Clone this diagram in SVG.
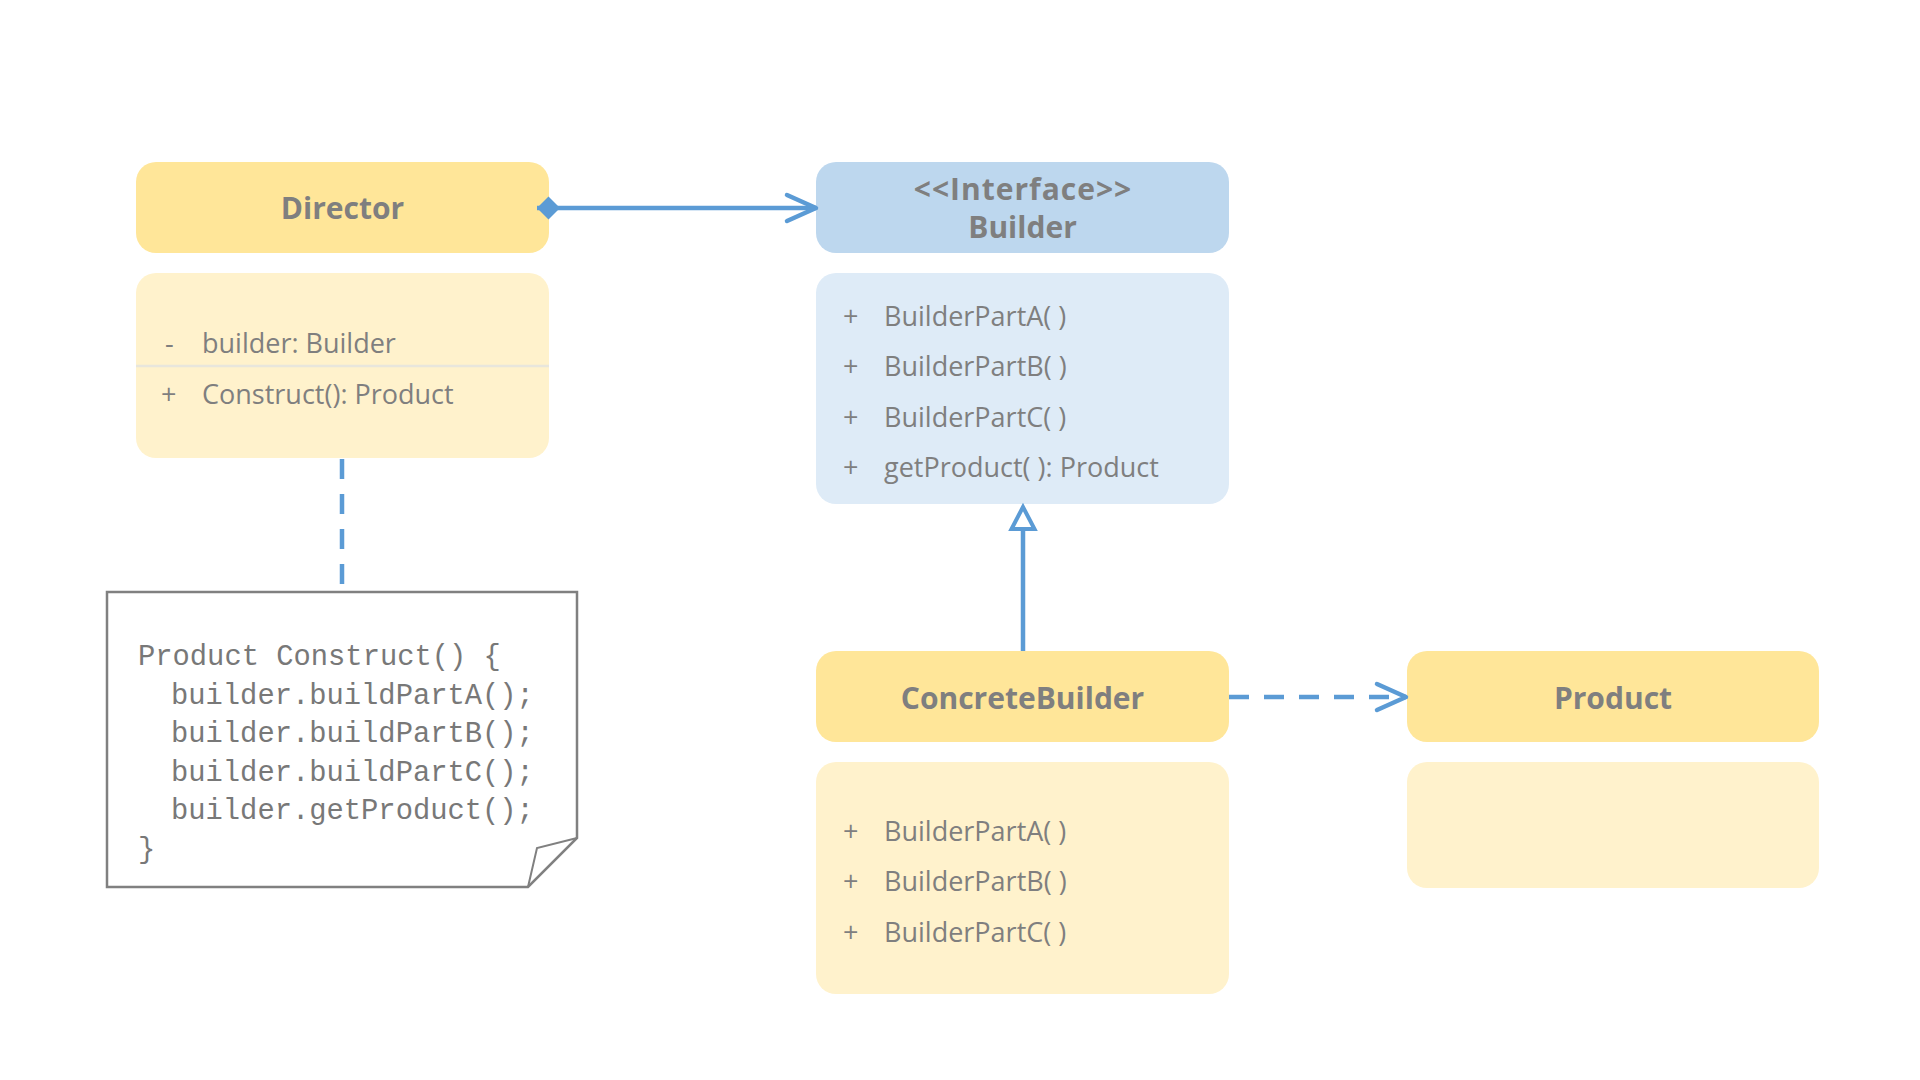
<svg xmlns="http://www.w3.org/2000/svg" width="1920" height="1080" viewBox="0 0 1920 1080">
<style>
.hdrY{fill:#FFE699}
.bodyY{fill:#FFF2CC}
.hdrB{fill:#BDD7EE}
.bodyB{fill:#DEEBF7}
.title{font-family:"Open Sans","Noto Sans",sans-serif;font-weight:bold;font-size:30px;fill:#7F7F7F;text-anchor:middle}
.item{font-family:"Open Sans","Noto Sans",sans-serif;font-size:27px;fill:#7F7F7F}
.code{font-family:"Liberation Mono","Courier New",monospace;font-size:28.8px;fill:#787878}
.conn{stroke:#5B9BD5;stroke-width:4.5;fill:none}
.dash{stroke-dasharray:20 15}
</style>
<defs>
<marker id="openArrow" markerUnits="userSpaceOnUse" markerWidth="40" markerHeight="40" viewBox="-34 -20 40 40" refX="0" refY="0" orient="auto" overflow="visible">
<path d="M-29,-13 L0,0 L-29,13" fill="none" stroke="#5B9BD5" stroke-width="4.5" stroke-linecap="round" stroke-linejoin="round"/>
</marker>
<marker id="diamond" markerUnits="userSpaceOnUse" markerWidth="30" markerHeight="30" viewBox="-2 -15 30 30" refX="0" refY="0" orient="auto" overflow="visible">
<path d="M0,0 L11.5,-11.5 L23,0 L11.5,11.5 Z" fill="#5B9BD5"/>
</marker>
<marker id="hollowTri" markerUnits="userSpaceOnUse" markerWidth="30" markerHeight="30" viewBox="-4 -15 30 30" refX="0" refY="0" orient="auto" overflow="visible">
<path d="M22,0 L0,-11.5 L0,11.5 Z" fill="#FFFFFF" stroke="#5B9BD5" stroke-width="4" stroke-linejoin="miter"/>
</marker>
</defs>
<rect width="1920" height="1080" fill="#FFFFFF"/>

<g id="director">
<rect class="hdrY" x="136" y="162" width="413" height="91" rx="20"/>
<text class="title" x="342.5" y="219">Director</text>
<rect class="bodyY" x="136" y="273" width="413" height="185" rx="20"/>
<line x1="136" y1="366" x2="549" y2="366" stroke="#E8E6DC" stroke-width="2.5"/>
<text class="item" x="165" y="353">-</text>
<text class="item" x="202" y="353">builder: Builder</text>
<text class="item" x="161" y="404">+</text>
<text class="item" x="202" y="404">Construct(): Product</text>
</g>

<g id="note">
<path d="M107,592 L577,592 L577,838 L528,887 L107,887 Z" fill="#FFFFFF" stroke="#808080" stroke-width="2.5" stroke-linejoin="miter"/>
<path d="M577,838 L537,848 L528,887" fill="none" stroke="#808080" stroke-width="2"/>
<text class="code" x="138" y="665">Product Construct() {</text>
<text class="code" x="171" y="703.5">builder.buildPartA();</text>
<text class="code" x="171" y="742">builder.buildPartB();</text>
<text class="code" x="171" y="780.5">builder.buildPartC();</text>
<text class="code" x="171" y="819">builder.getProduct();</text>
<text class="code" x="138" y="857.5">}</text>
</g>

<g id="builder">
<rect class="hdrB" x="816" y="162" width="413" height="91" rx="20"/>
<text class="title" x="1023" y="200" letter-spacing="1">&lt;&lt;Interface&gt;&gt;</text>
<text class="title" x="1022.5" y="238">Builder</text>
<rect class="bodyB" x="816" y="273" width="413" height="231" rx="20"/>
<text class="item" x="843" y="326">+</text>
<text class="item" x="884" y="326">BuilderPartA( )</text>
<text class="item" x="843" y="376">+</text>
<text class="item" x="884" y="376">BuilderPartB( )</text>
<text class="item" x="843" y="427">+</text>
<text class="item" x="884" y="427">BuilderPartC( )</text>
<text class="item" x="843" y="477">+</text>
<text class="item" x="884" y="477">getProduct( ): Product</text>
</g>

<g id="concreteBuilder">
<rect class="hdrY" x="816" y="651" width="413" height="91" rx="20"/>
<text class="title" x="1022.5" y="709">ConcreteBuilder</text>
<rect class="bodyY" x="816" y="762" width="413" height="232" rx="20"/>
<text class="item" x="843" y="841">+</text>
<text class="item" x="884" y="841">BuilderPartA( )</text>
<text class="item" x="843" y="891">+</text>
<text class="item" x="884" y="891">BuilderPartB( )</text>
<text class="item" x="843" y="942">+</text>
<text class="item" x="884" y="942">BuilderPartC( )</text>
</g>

<g id="product">
<rect class="hdrY" x="1407" y="651" width="412" height="91" rx="20"/>
<text class="title" x="1613" y="709">Product</text>
<rect class="bodyY" x="1407" y="762" width="412" height="126" rx="20"/>
</g>

<g id="connectors">
<path class="conn" d="M537,208 L816,208" marker-start="url(#diamond)" marker-end="url(#openArrow)"/>
<path class="conn dash" d="M342,459 L342,585"/>
<path class="conn" d="M1023,651 L1023,529" marker-end="url(#hollowTri)"/>
<path class="conn dash" d="M1229,697 L1406,697" marker-end="url(#openArrow)"/>
</g>
</svg>
